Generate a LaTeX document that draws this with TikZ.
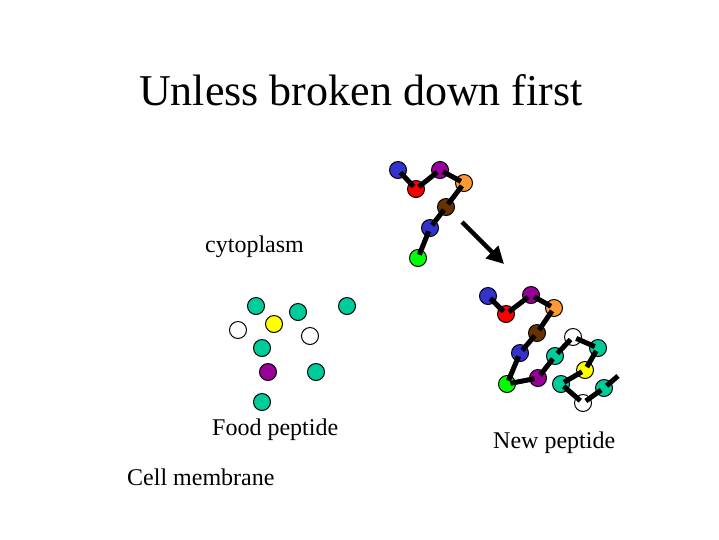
\documentclass[tikz,border=0pt]{standalone}
\usepackage{fontspec}
\setmainfont{Liberation Serif}
\usetikzlibrary{arrows.meta}
\definecolor{aablue}{RGB}{51,51,204}
\definecolor{aared}{RGB}{255,0,0}
\definecolor{aapurple}{RGB}{153,0,153}
\definecolor{aaorange}{RGB}{255,153,51}
\definecolor{aabrown}{RGB}{102,51,0}
\definecolor{aagreen}{RGB}{0,255,0}
\definecolor{aateal}{RGB}{0,204,153}
\definecolor{aayellow}{RGB}{255,255,0}
\tikzset{
  res/.style={circle, draw=black, line width=1pt, minimum size=17pt, inner sep=0pt, fill=#1},
  bond/.style={line width=5pt, black, shorten <=3.5pt, shorten >=3.5pt},
  bigarrow/.style={line width=4.5pt, black, -{Triangle[length=17pt,width=17pt]}},
  lbl/.style={anchor=base west, inner sep=0pt, font=\fontsize{24}{28}\selectfont},
  ttl/.style={anchor=base, inner sep=0pt, font=\fontsize{44}{50}\selectfont}
}
\begin{document}
\begin{tikzpicture}[x=1pt,y=-1pt]
\useasboundingbox[fill=white] (0,0) rectangle (719,539);
% texts
\node[ttl] (title) at (361,105) {Unless broken down first};
\node[lbl] (cyto) at (205,252) {cytoplasm};
\node[lbl] (food) at (212,435) {Food peptide};
\node[lbl] (newp) at (493,448) {New peptide};
\node[lbl] (memb) at (127,485) {Cell membrane};
% top chain
\node[res=aablue] (t1) at (398,170) {};
\node[res=aared] (t2) at (416,189) {};
\node[res=aapurple] (t3) at (440,170) {};
\node[res=aaorange] (t4) at (464,183) {};
\node[res=aabrown] (t5) at (446,207) {};
\node[res=aablue] (t6) at (430,228) {};
\node[res=aagreen] (t7) at (418,258) {};
\draw[bond] (t1.center) -- (t2.center);
\draw[bond] (t2.center) -- (t3.center);
\draw[bond] (t3.center) -- (t4.center);
\draw[bond] (t4.center) -- (t5.center);
\draw[bond] (t5.center) -- (t6.center);
\draw[bond] (t6.center) -- (t7.center);
% arrow
\coordinate (a1) at (462,222);
\coordinate (a2) at (504,264);
\draw[bigarrow] (a1) -- (a2);
% new peptide
\node[res=aablue] (n1) at (488,296) {};
\node[res=aared] (n2) at (506,314) {};
\node[res=aapurple] (n3) at (531,295) {};
\node[res=aaorange] (n4) at (554,308) {};
\node[res=aabrown] (n5) at (537,333) {};
\node[res=aablue] (n6) at (520,353) {};
\node[res=aagreen] (n7) at (507,384) {};
\node[res=aapurple] (n8) at (538,378) {};
\node[res=aateal] (n9) at (555,356) {};
\node[res=white] (n10) at (573,337) {};
\node[res=aateal] (n11) at (598,348) {};
\node[res=aayellow] (n12) at (585,370) {};
\node[res=aateal] (n13) at (561,384) {};
\node[res=white] (n14) at (583,403) {};
\node[res=aateal] (n15) at (604,388) {};
\coordinate (ne) at (618,376);
\draw[bond] (n1.center) -- (n2.center);
\draw[bond] (n2.center) -- (n3.center);
\draw[bond] (n3.center) -- (n4.center);
\draw[bond] (n4.center) -- (n5.center);
\draw[bond] (n5.center) -- (n6.center);
\draw[bond] (n6.center) -- (n7.center);
\draw[bond] (n7.center) -- (n8.center);
\draw[bond] (n8.center) -- (n9.center);
\draw[bond] (n9.center) -- (n10.center);
\draw[bond] (n10.center) -- (n11.center);
\draw[bond] (n11.center) -- (n12.center);
\draw[bond] (n12.center) -- (n13.center);
\draw[bond] (n13.center) -- (n14.center);
\draw[bond] (n14.center) -- (n15.center);
\draw[bond, shorten >=0pt] (n15.center) -- (ne);
% food peptide
\node[res=aateal] (f1) at (256,306) {};
\node[res=aateal] (f2) at (298,312) {};
\node[res=aateal] (f3) at (347,306) {};
\node[res=white] (f4) at (238,330) {};
\node[res=aayellow] (f5) at (274,324) {};
\node[res=white] (f6) at (310,336) {};
\node[res=aateal] (f7) at (262,348) {};
\node[res=aapurple] (f8) at (268,372) {};
\node[res=aateal] (f9) at (316,372) {};
\node[res=aateal] (f10) at (262,402) {};
\end{tikzpicture}
\end{document}
